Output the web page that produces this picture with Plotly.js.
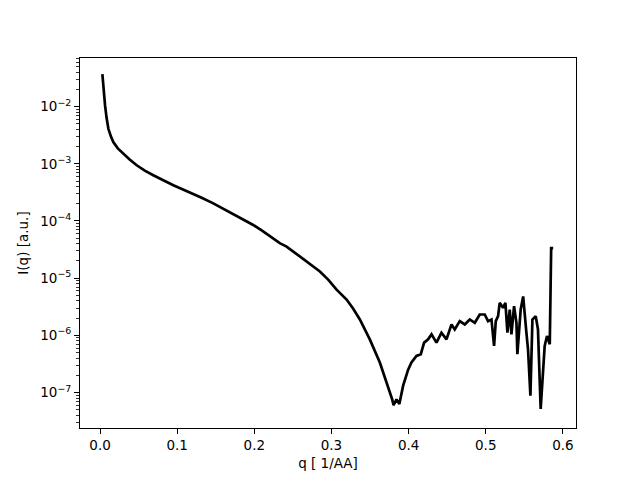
<!DOCTYPE html>
<html>
<head>
<meta charset="utf-8">
<script src="https://cdn.plot.ly/plotly-3.0.1.min.js"></script>
<style>html,body{margin:0;padding:0;background:#fff;}#chart{width:640px;height:480px;}</style>
</head>
<body>
<div id="chart"></div>
<script>
// q in 1/AA
const q = [
  0.003, 0.0045, 0.0065, 0.0085, 0.0108, 0.014, 0.0172, 0.023, 0.0302, 0.038,
  0.0475, 0.058, 0.069, 0.082, 0.095, 0.106, 0.1166, 0.131, 0.1468, 0.16,
  0.1727, 0.186, 0.1986, 0.21, 0.2202, 0.233, 0.2418, 0.252, 0.2634, 0.274,
  0.285, 0.296, 0.3066, 0.3196, 0.328, 0.3368, 0.3497, 0.3627, 0.3734, 0.3787,
  0.3805, 0.3843, 0.388, 0.3929, 0.3994, 0.4037, 0.4102, 0.4158, 0.4201, 0.4253,
  0.4297, 0.4361, 0.4426, 0.4491, 0.4556, 0.4598, 0.4663, 0.4728, 0.4793, 0.4858,
  0.4922, 0.4987, 0.503, 0.5074, 0.5108, 0.513, 0.516, 0.5181, 0.5224, 0.5255,
  0.5281, 0.5311, 0.5333, 0.5367, 0.5398, 0.541, 0.5453, 0.5485, 0.5527, 0.5548,
  0.5579, 0.5605, 0.5648, 0.5677, 0.5712, 0.5764, 0.5794, 0.583, 0.5848, 0.5874
];
// log10 of intensity
const logI = [
  -1.431, -1.75, -1.983, -2.2, -2.388, -2.52, -2.621, -2.73, -2.823, -2.92,
  -3.026, -3.12, -3.2, -3.29, -3.374, -3.44, -3.501, -3.59, -3.692, -3.79,
  -3.883, -3.97, -4.07, -4.17, -4.273, -4.388, -4.447, -4.55, -4.678, -4.77,
  -4.882, -5.03, -5.2, -5.374, -5.53, -5.722, -6.07, -6.475, -6.882, -7.12,
  -7.22, -7.12, -7.2, -6.88, -6.6, -6.475, -6.36, -6.33, -6.127, -6.07,
  -5.983, -6.127, -5.954, -6.07, -5.809, -5.896, -5.751, -5.809, -5.722, -5.78,
  -5.635, -5.635, -5.751, -5.722, -6.186, -5.751, -5.664, -5.432, -5.518, -5.432,
  -5.953, -5.548, -5.983, -5.49, -5.78, -6.33, -5.548, -5.32, -5.953, -6.243,
  -7.055, -5.722, -5.664, -5.896, -7.287, -6.186, -6.012, -6.157, -4.475, -4.475
];
const intensity = logI.map(v => Math.pow(10, v));

const majorVals = [1e-7, 1e-6, 1e-5, 1e-4, 1e-3, 1e-2];
const majorText = ['10<sup>−7</sup>', '10<sup>−6</sup>', '10<sup>−5</sup>', '10<sup>−4</sup>', '10<sup>−3</sup>', '10<sup>−2</sup>'];
const minorVals = [];
for (let e = -8; e <= -1; e++) {
  for (let m = 2; m <= 9; m++) minorVals.push(m * Math.pow(10, e));
}

const xTicks = [0, 0.1, 0.2, 0.3, 0.4, 0.5, 0.6];
const xText = ['0.0', '0.1', '0.2', '0.3', '0.4', '0.5', '0.6'];

const trace = {
  x: q, y: intensity, type: 'scatter', mode: 'lines',
  line: {color: '#000000', width: 2.7},
  hoverinfo: 'skip'
};

const font = {family: 'DejaVu Sans, sans-serif', size: 13.5, color: '#000'};

const layout = {
  width: 640, height: 480,
  margin: {l: 80, r: 64, t: 58, b: 52},
  paper_bgcolor: '#fff', plot_bgcolor: '#fff',
  font: font,
  showlegend: false,
  xaxis: {
    range: [-0.026, 0.617],
    tickmode: 'array', tickvals: xTicks, ticktext: xText,
    ticks: 'outside', ticklen: 5, tickwidth: 1, tickcolor: '#000',
    showline: true, linecolor: '#000', linewidth: 1, mirror: true,
    showgrid: false, zeroline: false,
    title: {text: 'q [ 1/AA]', font: font, standoff: 6}
  },
  yaxis: {
    type: 'log',
    range: [-7.62, -1.15],
    tickmode: 'array', tickvals: majorVals, ticktext: majorText,
    ticks: 'outside', ticklen: 5, tickwidth: 1, tickcolor: '#000',
    minor: {tickmode: 'array', tickvals: minorVals, ticks: 'outside', ticklen: 2.8, tickwidth: 0.8, tickcolor: '#000', showgrid: false},
    showline: true, linecolor: '#000', linewidth: 1, mirror: true,
    showgrid: false, zeroline: false,
    title: {text: 'I(q) [a.u.]', font: font, standoff: 8}
  }
};

Plotly.newPlot('chart', [trace], layout, {displayModeBar: false, staticPlot: true});
</script>
</body>
</html>
